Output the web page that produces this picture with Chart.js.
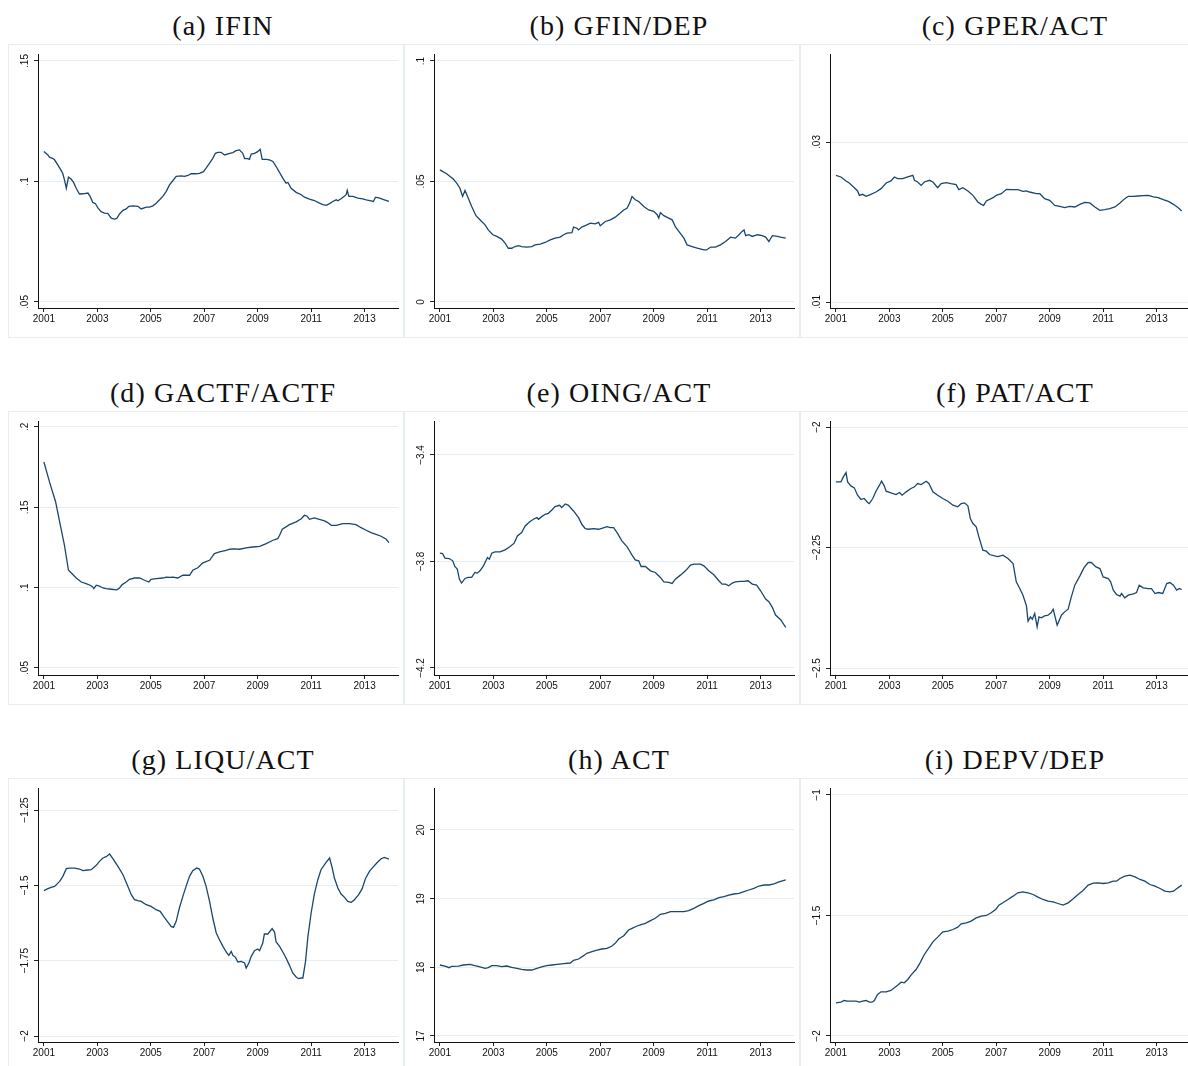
<!DOCTYPE html>
<html>
<head>
<meta charset="utf-8">
<title>Indicadores bancarios 2001-2013</title>
<script src="https://cdn.jsdelivr.net/npm/chart.js@4.4.1/dist/chart.umd.min.js"></script>
<style>
  html, body { margin: 0; padding: 0; background: #ffffff; width: 1188px; height: 1066px; overflow: hidden; }
  .title { position: absolute; width: 300px; text-align: center; white-space: nowrap;
           font-family: "Liberation Serif", "Times New Roman", serif; font-size: 28px; line-height: 28px;
           letter-spacing: 1.1px; color: #111; }
  .frame { position: absolute; width: 396px; height: 294px; box-sizing: border-box; border: 1px solid #e6eef1; }
  canvas { position: absolute; }
</style>
</head>
<body>
<script>
// x axis: decimal years, labelled every two years
const yearTicks = [2001, 2003, 2005, 2007, 2009, 2011, 2013];

// series as [year, value]
const ifin = [
  [2001.00,0.1124],[2001.15,0.1110],[2001.21,0.1101],[2001.34,0.1095],[2001.40,0.1090],[2001.52,0.1069],
  [2001.65,0.1045],[2001.71,0.1032],[2001.77,0.1007],[2001.84,0.0972],[2001.92,0.1018],[2002.02,0.1010],
  [2002.11,0.0996],[2002.21,0.0972],[2002.33,0.0948],[2002.46,0.0949],[2002.65,0.0952],[2002.73,0.0938],
  [2002.83,0.0913],[2002.93,0.0908],[2003.02,0.0890],[2003.14,0.0875],[2003.27,0.0869],[2003.39,0.0868],
  [2003.52,0.0848],[2003.64,0.0844],[2003.73,0.0847],[2003.83,0.0865],[2003.96,0.0880],[2004.08,0.0886],
  [2004.18,0.0897],[2004.33,0.0899],[2004.52,0.0897],[2004.64,0.0886],[2004.83,0.0894],[2004.95,0.0894],
  [2005.08,0.0899],[2005.20,0.0910],[2005.33,0.0924],[2005.45,0.0938],[2005.58,0.0959],[2005.70,0.0986],
  [2005.83,0.1004],[2005.95,0.1021],[2006.14,0.1023],[2006.26,0.1021],[2006.39,0.1025],[2006.51,0.1032],
  [2006.70,0.1032],[2006.82,0.1034],[2006.97,0.1041],[2007.07,0.1055],[2007.20,0.1076],[2007.32,0.1096],
  [2007.42,0.1117],[2007.51,0.1121],[2007.63,0.1121],[2007.76,0.1110],[2007.95,0.1117],[2008.07,0.1120],
  [2008.19,0.1128],[2008.32,0.1131],[2008.44,0.1117],[2008.51,0.1095],[2008.63,0.1095],[2008.69,0.1092],
  [2008.76,0.1114],[2008.88,0.1117],[2009.00,0.1124],[2009.09,0.1134],[2009.17,0.1092],[2009.32,0.1092],
  [2009.44,0.1090],[2009.57,0.1083],[2009.69,0.1062],[2009.82,0.1037],[2009.94,0.1014],[2010.06,0.0993],
  [2010.13,0.0996],[2010.25,0.0972],[2010.44,0.0955],[2010.63,0.0945],[2010.75,0.0935],[2010.94,0.0927],
  [2011.12,0.0921],[2011.31,0.0910],[2011.44,0.0904],[2011.56,0.0901],[2011.69,0.0908],[2011.81,0.0917],
  [2011.94,0.0924],[2012.00,0.0920],[2012.12,0.0928],[2012.31,0.0945],[2012.35,0.0963],[2012.41,0.0938],
  [2012.56,0.0938],[2012.75,0.0931],[2012.93,0.0928],[2013.06,0.0924],[2013.24,0.0920],[2013.33,0.0917],
  [2013.41,0.0935],[2013.56,0.0931],[2013.74,0.0924],[2013.91,0.0917]
];

const gfinDep = [
  [2001.00,0.0548],[2001.25,0.0532],[2001.50,0.0510],[2001.63,0.0493],[2001.75,0.0472],[2001.85,0.0438],
  [2001.94,0.0463],[2002.06,0.0431],[2002.19,0.0396],[2002.35,0.0358],[2002.50,0.0341],[2002.69,0.0320],
  [2002.81,0.0299],[2002.98,0.0279],[2003.13,0.0272],[2003.31,0.0261],[2003.44,0.0244],[2003.56,0.0223],
  [2003.69,0.0223],[2003.81,0.0230],[2003.94,0.0234],[2004.06,0.0230],[2004.25,0.0228],[2004.44,0.0230],
  [2004.56,0.0237],[2004.75,0.0240],[2004.94,0.0247],[2005.13,0.0258],[2005.31,0.0265],[2005.50,0.0269],
  [2005.63,0.0279],[2005.75,0.0286],[2005.94,0.0288],[2006.00,0.0311],[2006.13,0.0306],[2006.19,0.0299],
  [2006.31,0.0311],[2006.50,0.0320],[2006.63,0.0327],[2006.81,0.0324],[2006.94,0.0330],[2007.00,0.0316],
  [2007.19,0.0334],[2007.38,0.0341],[2007.56,0.0352],[2007.75,0.0369],[2007.88,0.0382],[2008.00,0.0389],
  [2008.10,0.0410],[2008.19,0.0438],[2008.31,0.0424],[2008.44,0.0417],[2008.63,0.0396],[2008.81,0.0382],
  [2009.00,0.0376],[2009.13,0.0362],[2009.19,0.0348],[2009.25,0.0371],[2009.38,0.0358],[2009.56,0.0348],
  [2009.69,0.0341],[2009.81,0.0313],[2009.94,0.0293],[2010.13,0.0265],[2010.25,0.0237],[2010.44,0.0230],
  [2010.63,0.0223],[2010.88,0.0216],[2010.98,0.0216],[2011.13,0.0228],[2011.31,0.0228],[2011.50,0.0237],
  [2011.69,0.0251],[2011.88,0.0269],[2012.06,0.0265],[2012.19,0.0279],[2012.31,0.0293],[2012.38,0.0299],
  [2012.44,0.0275],[2012.56,0.0279],[2012.69,0.0272],[2012.88,0.0279],[2013.06,0.0275],[2013.19,0.0269],
  [2013.31,0.0251],[2013.44,0.0275],[2013.63,0.0272],[2013.75,0.0269],[2013.94,0.0265]
];

const gperAct = [
  [2001.00,0.02583],[2001.19,0.02563],[2001.38,0.02513],[2001.50,0.02488],[2001.69,0.02429],[2001.81,0.02388],
  [2001.88,0.02333],[2002.00,0.02346],[2002.13,0.02321],[2002.31,0.02346],[2002.50,0.02375],[2002.69,0.02417],
  [2002.88,0.02488],[2003.06,0.02513],[2003.19,0.02563],[2003.31,0.02542],[2003.50,0.02542],[2003.69,0.02563],
  [2003.88,0.02583],[2003.94,0.02521],[2004.06,0.02500],[2004.19,0.02458],[2004.31,0.02500],[2004.50,0.02521],
  [2004.63,0.02500],[2004.81,0.02429],[2004.94,0.02479],[2005.13,0.02492],[2005.31,0.02479],[2005.50,0.02467],
  [2005.60,0.02404],[2005.75,0.02429],[2005.94,0.02388],[2006.13,0.02333],[2006.31,0.02250],[2006.44,0.02221],
  [2006.53,0.02208],[2006.63,0.02263],[2006.88,0.02304],[2007.00,0.02333],[2007.19,0.02354],[2007.38,0.02408],
  [2007.56,0.02404],[2007.81,0.02404],[2008.00,0.02383],[2008.13,0.02388],[2008.25,0.02375],[2008.50,0.02354],
  [2008.63,0.02354],[2008.81,0.02292],[2009.00,0.02271],[2009.19,0.02208],[2009.38,0.02196],[2009.56,0.02179],
  [2009.75,0.02196],[2009.94,0.02188],[2010.13,0.02221],[2010.31,0.02246],[2010.50,0.02238],[2010.69,0.02188],
  [2010.88,0.02146],[2011.06,0.02154],[2011.25,0.02167],[2011.44,0.02188],[2011.63,0.02238],[2011.81,0.02292],
  [2011.94,0.02321],[2012.13,0.02321],[2012.31,0.02325],[2012.50,0.02329],[2012.69,0.02333],[2012.88,0.02313],
  [2013.06,0.02304],[2013.25,0.02279],[2013.44,0.02258],[2013.63,0.02221],[2013.81,0.02179],[2013.94,0.02138]
];

const gactfActf = [
  [2001.00,0.1782],[2001.21,0.1658],[2001.44,0.1533],[2001.59,0.1409],[2001.77,0.1263],[2001.92,0.1108],
  [2002.02,0.1093],[2002.21,0.1060],[2002.40,0.1035],[2002.58,0.1025],[2002.73,0.1015],[2002.83,0.1004],
  [2002.87,0.0994],[2002.96,0.1015],[2003.08,0.1010],[2003.21,0.0998],[2003.33,0.0994],[2003.52,0.0990],
  [2003.73,0.0986],[2003.83,0.0998],[2003.93,0.1019],[2004.08,0.1035],[2004.20,0.1052],[2004.39,0.1060],
  [2004.58,0.1060],[2004.77,0.1046],[2004.93,0.1035],[2005.01,0.1052],[2005.20,0.1056],[2005.45,0.1060],
  [2005.58,0.1066],[2005.70,0.1064],[2005.83,0.1066],[2006.01,0.1060],[2006.20,0.1077],[2006.45,0.1077],
  [2006.57,0.1108],[2006.76,0.1124],[2006.95,0.1154],[2007.20,0.1170],[2007.38,0.1212],[2007.57,0.1222],
  [2007.82,0.1232],[2007.95,0.1239],[2008.13,0.1241],[2008.32,0.1239],[2008.57,0.1247],[2008.82,0.1253],
  [2009.07,0.1257],[2009.32,0.1274],[2009.57,0.1295],[2009.75,0.1305],[2009.82,0.1326],[2009.92,0.1363],
  [2010.19,0.1392],[2010.44,0.1409],[2010.63,0.1429],[2010.75,0.1450],[2010.84,0.1446],[2010.94,0.1425],
  [2011.12,0.1434],[2011.31,0.1425],[2011.50,0.1415],[2011.62,0.1405],[2011.75,0.1388],[2011.94,0.1388],
  [2012.18,0.1398],[2012.43,0.1398],[2012.68,0.1392],[2012.87,0.1373],[2013.06,0.1357],[2013.24,0.1342],
  [2013.43,0.1332],[2013.62,0.1320],[2013.81,0.1301],[2013.91,0.1280]
];

const oingAct = [
  [2001.00,-3.7688],[2001.10,-3.7700],[2001.19,-3.7875],[2001.35,-3.7888],[2001.48,-3.7975],[2001.56,-3.8187],
  [2001.65,-3.8287],[2001.73,-3.8662],[2001.81,-3.8811],[2001.94,-3.8637],[2002.06,-3.8599],[2002.19,-3.8599],
  [2002.31,-3.8412],[2002.40,-3.8437],[2002.50,-3.8350],[2002.63,-3.8162],[2002.78,-3.7850],[2002.85,-3.7913],
  [2002.94,-3.7688],[2003.06,-3.7638],[2003.25,-3.7638],[2003.44,-3.7563],[2003.63,-3.7438],[2003.78,-3.7313],
  [2003.90,-3.7039],[2004.06,-3.6914],[2004.19,-3.6664],[2004.35,-3.6514],[2004.50,-3.6414],[2004.63,-3.6352],
  [2004.69,-3.6414],[2004.81,-3.6315],[2004.94,-3.6227],[2005.06,-3.6190],[2005.19,-3.6065],[2005.31,-3.5940],
  [2005.48,-3.5890],[2005.56,-3.5978],[2005.69,-3.5840],[2005.81,-3.5890],[2006.00,-3.6102],[2006.19,-3.6352],
  [2006.31,-3.6602],[2006.44,-3.6764],[2006.56,-3.6789],[2006.75,-3.6764],[2006.94,-3.6789],[2007.06,-3.6752],
  [2007.25,-3.6689],[2007.38,-3.6727],[2007.50,-3.6727],[2007.63,-3.6914],[2007.81,-3.7226],[2008.00,-3.7438],
  [2008.19,-3.7763],[2008.31,-3.7938],[2008.44,-3.7975],[2008.53,-3.8187],[2008.69,-3.8187],[2008.88,-3.8350],
  [2009.06,-3.8412],[2009.25,-3.8599],[2009.38,-3.8762],[2009.56,-3.8787],[2009.69,-3.8824],[2009.81,-3.8662],
  [2010.00,-3.8512],[2010.19,-3.8350],[2010.38,-3.8137],[2010.50,-3.8100],[2010.75,-3.8100],[2010.88,-3.8162],
  [2011.06,-3.8350],[2011.25,-3.8499],[2011.44,-3.8724],[2011.56,-3.8849],[2011.69,-3.8849],[2011.81,-3.8911],
  [2011.94,-3.8811],[2012.06,-3.8762],[2012.25,-3.8749],[2012.38,-3.8749],[2012.53,-3.8724],[2012.69,-3.8849],
  [2012.85,-3.8886],[2013.00,-3.9099],[2013.19,-3.9411],[2013.31,-3.9511],[2013.44,-3.9723],[2013.56,-4.0010],
  [2013.75,-4.0185],[2013.94,-4.0472]
];

const patAct = [
  [2001.00,-2.1138],[2001.19,-2.1138],[2001.28,-2.1034],[2001.38,-2.0944],[2001.44,-2.1138],[2001.56,-2.1221],
  [2001.69,-2.1262],[2001.81,-2.1414],[2001.94,-2.1504],[2002.06,-2.1483],[2002.19,-2.1566],[2002.25,-2.1587],
  [2002.38,-2.1483],[2002.50,-2.1331],[2002.63,-2.1207],[2002.71,-2.1124],[2002.81,-2.1221],[2002.88,-2.1331],
  [2003.06,-2.1366],[2003.25,-2.1400],[2003.38,-2.1359],[2003.48,-2.1414],[2003.63,-2.1345],[2003.81,-2.1276],
  [2003.94,-2.1241],[2004.06,-2.1172],[2004.19,-2.1193],[2004.38,-2.1124],[2004.48,-2.1172],[2004.63,-2.1345],
  [2004.81,-2.1414],[2005.00,-2.1483],[2005.19,-2.1539],[2005.38,-2.1622],[2005.56,-2.1656],[2005.69,-2.1587],
  [2005.81,-2.1573],[2005.94,-2.1636],[2006.03,-2.1898],[2006.13,-2.2002],[2006.25,-2.2071],[2006.35,-2.2279],
  [2006.50,-2.2555],[2006.63,-2.2576],[2006.75,-2.2645],[2006.94,-2.2673],[2007.06,-2.2687],[2007.25,-2.2659],
  [2007.44,-2.2728],[2007.63,-2.2832],[2007.75,-2.3212],[2007.88,-2.3351],[2008.00,-2.3489],[2008.13,-2.3710],
  [2008.19,-2.4028],[2008.28,-2.3938],[2008.35,-2.3987],[2008.44,-2.3869],[2008.53,-2.4146],[2008.60,-2.3938],
  [2008.69,-2.3959],[2008.81,-2.3918],[2008.94,-2.3904],[2009.06,-2.3849],[2009.13,-2.3779],[2009.28,-2.4111],
  [2009.44,-2.3904],[2009.56,-2.3835],[2009.69,-2.3779],[2009.81,-2.3524],[2009.94,-2.3281],[2010.13,-2.3088],
  [2010.28,-2.2922],[2010.44,-2.2811],[2010.56,-2.2811],[2010.73,-2.2901],[2010.88,-2.2936],[2011.00,-2.3109],
  [2011.19,-2.3143],[2011.28,-2.3212],[2011.38,-2.3385],[2011.50,-2.3475],[2011.63,-2.3510],[2011.69,-2.3454],
  [2011.81,-2.3544],[2011.94,-2.3489],[2012.13,-2.3461],[2012.25,-2.3434],[2012.35,-2.3281],[2012.50,-2.3337],
  [2012.69,-2.3351],[2012.81,-2.3351],[2012.94,-2.3454],[2013.06,-2.3434],[2013.23,-2.3454],[2013.38,-2.3247],
  [2013.50,-2.3226],[2013.63,-2.3281],[2013.75,-2.3385],[2013.85,-2.3351],[2013.94,-2.3371]
];

const liquAct = [
  [2001.00,-1.5177],[2001.15,-1.5111],[2001.27,-1.5066],[2001.40,-1.5033],[2001.59,-1.4867],[2001.71,-1.4701],
  [2001.84,-1.4447],[2001.96,-1.4425],[2002.15,-1.4425],[2002.33,-1.4458],[2002.46,-1.4513],[2002.65,-1.4491],
  [2002.77,-1.4480],[2002.96,-1.4336],[2003.08,-1.4204],[2003.21,-1.4093],[2003.33,-1.4049],[2003.46,-1.3960],
  [2003.58,-1.4115],[2003.77,-1.4369],[2003.96,-1.4646],[2004.14,-1.5033],[2004.27,-1.5310],[2004.39,-1.5476],
  [2004.52,-1.5509],[2004.64,-1.5531],[2004.83,-1.5642],[2005.01,-1.5697],[2005.20,-1.5808],[2005.35,-1.5863],
  [2005.48,-1.6029],[2005.64,-1.6217],[2005.76,-1.6361],[2005.85,-1.6394],[2005.95,-1.6195],[2006.07,-1.5752],
  [2006.20,-1.5365],[2006.32,-1.5033],[2006.45,-1.4701],[2006.57,-1.4513],[2006.72,-1.4425],[2006.82,-1.4458],
  [2006.95,-1.4701],[2007.07,-1.5033],[2007.20,-1.5531],[2007.32,-1.6084],[2007.45,-1.6582],[2007.57,-1.6803],
  [2007.70,-1.7024],[2007.82,-1.7212],[2007.92,-1.7323],[2008.01,-1.7190],[2008.07,-1.7323],[2008.17,-1.7389],
  [2008.26,-1.7544],[2008.38,-1.7522],[2008.51,-1.7577],[2008.57,-1.7743],[2008.67,-1.7577],[2008.76,-1.7356],
  [2008.88,-1.7168],[2009.00,-1.7113],[2009.07,-1.7168],[2009.19,-1.6914],[2009.25,-1.6615],[2009.38,-1.6615],
  [2009.44,-1.6549],[2009.54,-1.6438],[2009.63,-1.6549],[2009.69,-1.6881],[2009.82,-1.7024],[2009.94,-1.7212],
  [2010.06,-1.7412],[2010.19,-1.7655],[2010.31,-1.7909],[2010.44,-1.8042],[2010.53,-1.8097],[2010.63,-1.8075],
  [2010.69,-1.8075],[2010.79,-1.7522],[2010.88,-1.6692],[2011.00,-1.5918],[2011.12,-1.5288],[2011.25,-1.4812],
  [2011.37,-1.4480],[2011.56,-1.4237],[2011.69,-1.4093],[2011.79,-1.4425],[2011.87,-1.4757],[2012.00,-1.5088],
  [2012.12,-1.5288],[2012.25,-1.5398],[2012.37,-1.5531],[2012.50,-1.5564],[2012.62,-1.5476],[2012.78,-1.5310],
  [2012.91,-1.5111],[2013.03,-1.4779],[2013.18,-1.4535],[2013.31,-1.4403],[2013.49,-1.4226],[2013.62,-1.4115],
  [2013.74,-1.4071],[2013.91,-1.4126]
];

const act = [
  [2001.00,18.034],[2001.19,18.019],[2001.35,17.995],[2001.44,18.015],[2001.69,18.019],[2001.88,18.034],
  [2002.13,18.044],[2002.31,18.024],[2002.50,18.005],[2002.69,17.985],[2002.81,17.995],[2002.94,18.024],
  [2003.13,18.024],[2003.31,18.010],[2003.50,18.019],[2003.69,18.000],[2003.88,17.985],[2004.06,17.971],
  [2004.25,17.961],[2004.44,17.961],[2004.63,17.985],[2004.81,18.005],[2005.00,18.024],[2005.19,18.034],
  [2005.38,18.044],[2005.63,18.053],[2005.88,18.063],[2006.00,18.102],[2006.19,18.121],[2006.38,18.170],
  [2006.50,18.204],[2006.69,18.228],[2006.88,18.252],[2007.06,18.267],[2007.25,18.277],[2007.44,18.311],
  [2007.56,18.350],[2007.69,18.413],[2007.88,18.461],[2008.06,18.544],[2008.19,18.568],[2008.38,18.602],
  [2008.50,18.617],[2008.69,18.641],[2008.88,18.680],[2009.06,18.714],[2009.25,18.772],[2009.44,18.786],
  [2009.63,18.811],[2009.88,18.811],[2010.13,18.811],[2010.31,18.825],[2010.50,18.859],[2010.69,18.898],
  [2010.88,18.932],[2011.06,18.966],[2011.25,18.981],[2011.44,19.015],[2011.63,19.029],[2011.81,19.053],
  [2012.00,19.068],[2012.19,19.078],[2012.38,19.102],[2012.56,19.126],[2012.75,19.150],[2012.94,19.184],
  [2013.13,19.199],[2013.31,19.199],[2013.50,19.214],[2013.69,19.243],[2013.94,19.272]
];

const depvDep = [
  [2001.00,-1.8624],[2001.19,-1.8596],[2001.31,-1.8527],[2001.44,-1.8555],[2001.63,-1.8555],[2001.75,-1.8555],
  [2001.88,-1.8596],[2002.00,-1.8555],[2002.13,-1.8527],[2002.25,-1.8596],[2002.35,-1.8596],[2002.44,-1.8527],
  [2002.56,-1.8278],[2002.69,-1.8167],[2002.88,-1.8167],[2003.06,-1.8112],[2003.19,-1.8001],[2003.31,-1.7891],
  [2003.44,-1.7766],[2003.56,-1.7794],[2003.69,-1.7656],[2003.81,-1.7476],[2004.00,-1.7241],[2004.15,-1.6964],
  [2004.31,-1.6618],[2004.48,-1.6342],[2004.63,-1.6093],[2004.81,-1.5899],[2005.00,-1.5678],[2005.19,-1.5650],
  [2005.38,-1.5581],[2005.56,-1.5484],[2005.69,-1.5346],[2005.88,-1.5304],[2006.06,-1.5235],[2006.25,-1.5097],
  [2006.44,-1.5028],[2006.63,-1.5000],[2006.81,-1.4889],[2006.98,-1.4751],[2007.10,-1.4571],[2007.25,-1.4474],
  [2007.44,-1.4336],[2007.63,-1.4198],[2007.81,-1.4059],[2008.00,-1.4018],[2008.19,-1.4059],[2008.38,-1.4129],
  [2008.56,-1.4239],[2008.75,-1.4336],[2008.94,-1.4405],[2009.13,-1.4433],[2009.31,-1.4502],[2009.50,-1.4571],
  [2009.69,-1.4474],[2009.88,-1.4308],[2010.06,-1.4129],[2010.25,-1.3963],[2010.44,-1.3741],[2010.63,-1.3658],
  [2010.81,-1.3645],[2011.00,-1.3672],[2011.19,-1.3645],[2011.38,-1.3575],[2011.50,-1.3575],[2011.63,-1.3465],
  [2011.81,-1.3368],[2012.00,-1.3326],[2012.19,-1.3396],[2012.38,-1.3506],[2012.56,-1.3575],[2012.75,-1.3714],
  [2012.94,-1.3783],[2013.13,-1.3880],[2013.31,-1.3990],[2013.50,-1.4018],[2013.63,-1.3990],[2013.75,-1.3893],
  [2013.94,-1.3741]
];

// labelled y ticks of each panel
const ifinTicks = [0.05, 0.1, 0.15];
const gfinDepTicks = [0, 0.05, 0.1];
const gperActTicks = [0.01, 0.03];
const gactfActfTicks = [0.05, 0.1, 0.15, 0.2];
const oingActTicks = [-4.2, -3.8, -3.4];
const patActTicks = [-2.5, -2.25, -2];
const liquActTicks = [-2, -1.75, -1.5, -1.25];
const actTicks = [17, 18, 19, 20];
const depvDepTicks = [-2, -1.5, -1];

const panels = [
  { title: '(a) IFIN',        data: ifin,      ticks: ifinTicks,      min: 0.0475,  max: 0.1529,  pad: 2.0 },
  { title: '(b) GFIN/DEP',    data: gfinDep,   ticks: gfinDepTicks,   min: -0.0025, max: 0.1029,  pad: 2.0 },
  { title: '(c) GPER/ACT',    data: gperAct,   ticks: gperActTicks,   min: 0.00925, max: 0.0410,  pad: 2.0 },
  { title: '(d) GACTF/ACTF',  data: gactfActf, ticks: gactfActfTicks, min: 0.04564, max: 0.2037,  pad: 2.0 },
  { title: '(e) OING/ACT',    data: oingAct,   ticks: oingActTicks,   min: -4.2263, max: -3.2723, pad: -0.9 },
  { title: '(f) PAT/ACT',     data: patAct,    ticks: patActTicks,    min: -2.5145, max: -1.9875, pad: -3.6 },
  { title: '(g) LIQU/ACT',    data: liquAct,   ticks: liquActTicks,   min: -2.0199, max: -1.1769, pad: -3.6 },
  { title: '(h) ACT',         data: act,       ticks: actTicks,       min: 16.9126, max: 20.6115, pad: 3.4 },
  { title: '(i) DEPV/DEP',    data: depvDep,   ticks: depvDepTicks,   min: -2.0249, max: -0.9710, pad: -0.9 }
];

// Stata-style numbers: no leading zero, true minus sign
function stataLabel(v) {
  let s = String(Number(Number(v).toFixed(4)));
  s = s.replace(/^(-?)0\./, '$1.');
  return s.replace('-', '\u2212');
}

const tickFont = { family: '"Liberation Sans", Arial, sans-serif', size: 10 };
const ink = '#111111';

panels.forEach((p, i) => {
  const col = i % 3, row = Math.floor(i / 3);
  const left = 8 + 396 * col;
  const top = 44 + 367 * row;

  const t = document.createElement('div');
  t.className = 'title';
  t.textContent = p.title;
  t.style.left = (223 + 396 * col - 150) + 'px';
  t.style.top = (12 + 367 * row) + 'px';
  document.body.appendChild(t);

  const frame = document.createElement('div');
  frame.className = 'frame';
  frame.style.left = left + 'px';
  frame.style.top = top + 'px';
  document.body.appendChild(frame);

  const cv = document.createElement('canvas');
  cv.width = 396; cv.height = 294;
  cv.style.width = '396px'; cv.style.height = '294px';
  cv.style.left = left + 'px'; cv.style.top = top + 'px';
  document.body.appendChild(cv);

  new Chart(cv.getContext('2d'), {
    type: 'line',
    data: {
      datasets: [{
        data: p.data.map(([x, y]) => ({ x, y })),
        borderColor: '#1a476f',
        borderWidth: 1.3,
        pointRadius: 0,
        tension: 0,
        fill: false
      }]
    },
    options: {
      responsive: false,
      animation: false,
      devicePixelRatio: 1,
      layout: { padding: { top: 10, right: 6, left: 0, bottom: 0 } },
      plugins: { legend: { display: false }, tooltip: { enabled: false }, title: { display: false } },
      scales: {
        x: {
          type: 'linear',
          min: 2000.78,
          max: 2014.25,
          afterBuildTicks: s => { s.ticks = yearTicks.map(v => ({ value: v })); },
          afterFit: s => { s.height = 30; },
          ticks: { callback: v => String(v), font: tickFont, color: ink, padding: 1, maxRotation: 0, autoSkip: false },
          grid: { drawOnChartArea: false, drawTicks: true, tickLength: 4, tickColor: '#222' },
          border: { display: true, color: ink, width: 1 }
        },
        y: {
          type: 'linear',
          min: p.min,
          max: p.max,
          afterBuildTicks: s => { s.ticks = p.ticks.map(v => ({ value: v })); },
          afterFit: s => { s.width = 30; },
          ticks: { callback: v => stataLabel(v), font: tickFont, color: ink, minRotation: 90, maxRotation: 90,
                   crossAlign: 'center', padding: p.pad, autoSkip: false },
          grid: { color: '#e6eef1', lineWidth: 1, drawTicks: true, tickLength: 4, tickColor: '#222' },
          border: { display: true, color: ink, width: 1 }
        }
      }
    }
  });
});
</script>
</body>
</html>
